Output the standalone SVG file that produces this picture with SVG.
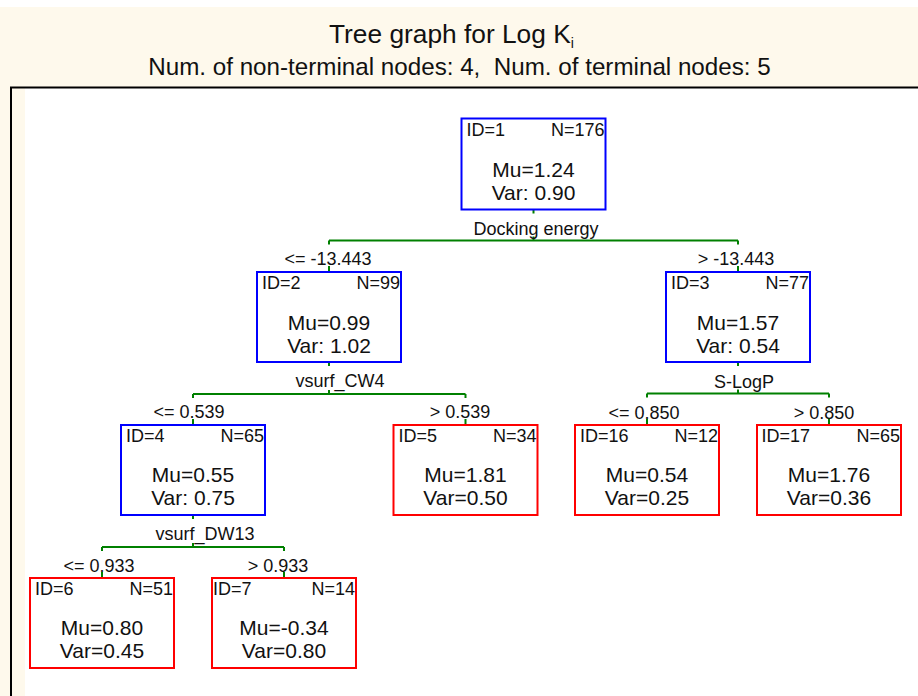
<svg xmlns="http://www.w3.org/2000/svg" width="918" height="696" viewBox="0 0 918 696">
<style>
text{font-family:"Liberation Sans",Arial,sans-serif;fill:#111}
.box{fill:none;stroke-width:2}
.nt{stroke:#0000FF}
.t{stroke:#FF0000}
.id{font-size:18px}
.n{font-size:18px;text-anchor:end}
.v{font-size:21px;text-anchor:middle}
.lb{font-size:18px;text-anchor:middle}
#connectors path{fill:none;stroke:#008000;stroke-width:2}
</style>
<rect x="0" y="0" width="918" height="696" fill="#FFFFFF"/>
<rect x="0" y="7" width="918" height="689" fill="#FEF9EC"/>
<rect x="25" y="88" width="893" height="608" fill="#FFFFFF"/>
<path d="M11 696V87.5H918" fill="none" stroke="#000" stroke-width="2"/>
<g id="title">
<text x="329" y="43" font-size="26.3">Tree graph for Log K<tspan font-size="14" dy="5">i</tspan></text>
<text x="459.5" y="75" font-size="24.2" text-anchor="middle" xml:space="preserve">Num. of non-terminal nodes: 4,  Num. of terminal nodes: 5</text>
</g>
<g id="connectors">
<path d="M533.5 209.5V213.5M533.5 236.5V240.5M329 240.5H738M329 240.5V244.5M738 240.5V244.5M329 266V272M738 266V272"/>
<path d="M329 362V366M329 390V394M193 394H465.5M193 394V398M465.5 394V398M193 419V425M465.5 419V425"/>
<path d="M738 362V366M738 389.5V393.5M647 393.5H829M647 393.5V397.5M829 393.5V397.5M647 419V425M829 419V425"/>
<path d="M193 515V519M193 543V547M102 547H284M102 547V551M284 547V551M102 572V578M284 572V578"/>
</g>
<g id="labels">
<text class="lb" x="536" y="235">Docking energy</text>
<text class="lb" x="328" y="265">&lt;= -13.443</text>
<text class="lb" x="736" y="265">&gt; -13.443</text>
<text class="lb" x="340" y="387">vsurf_CW4</text>
<text class="lb" x="189" y="418">&lt;= 0.539</text>
<text class="lb" x="460" y="418">&gt; 0.539</text>
<text class="lb" x="744" y="388">S-LogP</text>
<text class="lb" x="644" y="419">&lt;= 0.850</text>
<text class="lb" x="824" y="419">&gt; 0.850</text>
<text class="lb" x="205" y="540">vsurf_DW13</text>
<text class="lb" x="99" y="572">&lt;= 0.933</text>
<text class="lb" x="278" y="572">&gt; 0.933</text>
</g>
<g id="node1">
<rect class="box nt" x="461.5" y="118.5" width="144" height="91"/>
<text class="id" x="466.5" y="135.5">ID=1</text>
<text class="n" x="604.5" y="135.5">N=176</text>
<text class="v" x="533.5" y="176.5">Mu=1.24</text>
<text class="v" x="533.5" y="200">Var: 0.90</text>
</g>
<g id="node2">
<rect class="box nt" x="257" y="272" width="144" height="90"/>
<text class="id" x="262" y="289">ID=2</text>
<text class="n" x="400" y="289">N=99</text>
<text class="v" x="329" y="330">Mu=0.99</text>
<text class="v" x="329" y="353">Var: 1.02</text>
</g>
<g id="node3">
<rect class="box nt" x="666" y="272" width="144" height="90"/>
<text class="id" x="671" y="289">ID=3</text>
<text class="n" x="809" y="289">N=77</text>
<text class="v" x="738" y="330">Mu=1.57</text>
<text class="v" x="738" y="353">Var: 0.54</text>
</g>
<g id="node4">
<rect class="box nt" x="121" y="425" width="144" height="90"/>
<text class="id" x="126" y="442">ID=4</text>
<text class="n" x="264" y="442">N=65</text>
<text class="v" x="193" y="482">Mu=0.55</text>
<text class="v" x="193" y="505">Var: 0.75</text>
</g>
<g id="node5">
<rect class="box t" x="393.5" y="425" width="144" height="90"/>
<text class="id" x="398.5" y="442">ID=5</text>
<text class="n" x="536.5" y="442">N=34</text>
<text class="v" x="465.5" y="482">Mu=1.81</text>
<text class="v" x="465.5" y="505">Var=0.50</text>
</g>
<g id="node16">
<rect class="box t" x="575" y="425" width="144" height="90"/>
<text class="id" x="580" y="442">ID=16</text>
<text class="n" x="718" y="442">N=12</text>
<text class="v" x="647" y="482">Mu=0.54</text>
<text class="v" x="647" y="505">Var=0.25</text>
</g>
<g id="node17">
<rect class="box t" x="757" y="425" width="144" height="90"/>
<text class="id" x="761.5" y="442">ID=17</text>
<text class="n" x="900" y="442">N=65</text>
<text class="v" x="829" y="482">Mu=1.76</text>
<text class="v" x="829" y="505">Var=0.36</text>
</g>
<g id="node6">
<rect class="box t" x="30" y="578" width="144" height="90"/>
<text class="id" x="35" y="595">ID=6</text>
<text class="n" x="173" y="595">N=51</text>
<text class="v" x="102" y="635">Mu=0.80</text>
<text class="v" x="102" y="658">Var=0.45</text>
</g>
<g id="node7">
<rect class="box t" x="212" y="578" width="144" height="90"/>
<text class="id" x="213" y="595">ID=7</text>
<text class="n" x="355" y="595">N=14</text>
<text class="v" x="284" y="635">Mu=-0.34</text>
<text class="v" x="284" y="658">Var=0.80</text>
</g>
</svg>
